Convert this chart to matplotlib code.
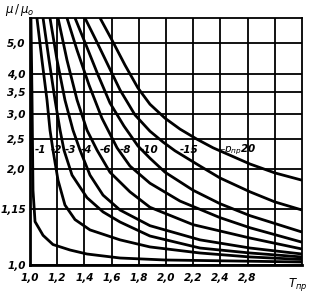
import numpy as np
import matplotlib
matplotlib.use("Agg")
import matplotlib.pyplot as plt

# reduced pressure of each curve
p_values = [1, 2, 3, 4, 6, 8, 10, 15, 20]

# points: T_pr and mu/mu0 for each curve
t_pts = {
    1: [1.007, 1.015, 1.022, 1.037, 1.096, 1.169, 1.294, 1.419, 1.662, 1.993, 2.47, 3.0],
    2: [1.051, 1.088, 1.125, 1.147, 1.169, 1.206, 1.257, 1.331, 1.441, 1.662, 1.882, 2.250, 2.618, 3.0],
    3: [1.096, 1.140, 1.184, 1.221, 1.250, 1.309, 1.419, 1.537, 1.662, 1.882, 2.250, 2.618, 3.0],
    4: [1.147, 1.199, 1.257, 1.316, 1.368, 1.441, 1.537, 1.662, 1.882, 2.250, 2.618, 3.0],
    6: [1.206, 1.272, 1.346, 1.419, 1.493, 1.588, 1.735, 1.882, 2.199, 2.618, 3.0],
    8: [1.272, 1.346, 1.434, 1.529, 1.640, 1.735, 1.882, 2.103, 2.397, 2.618, 3.0],
    10: [1.331, 1.412, 1.500, 1.588, 1.691, 1.794, 1.882, 1.993, 2.199, 2.397, 2.618, 3.0],
    15: [1.404, 1.485, 1.574, 1.662, 1.772, 1.882, 1.978, 2.066, 2.250, 2.397, 2.618, 2.801, 3.0],
    20: [1.515, 1.603, 1.699, 1.794, 1.882, 1.993, 2.103, 2.228, 2.346, 2.618, 2.801, 3.0],
}
mu_pts = {
    1: [6.0, 3.31, 1.72, 1.37, 1.24, 1.16, 1.115, 1.083, 1.052, 1.037, 1.03, 1.022],
    2: [6.0, 4.42, 3.31, 2.66, 2.30, 1.85, 1.545, 1.39, 1.29, 1.20, 1.14, 1.091, 1.060, 1.041],
    3: [6.0, 4.42, 3.31, 2.66, 2.30, 1.92, 1.63, 1.47, 1.366, 1.234, 1.131, 1.091, 1.060],
    4: [6.0, 4.42, 3.31, 2.66, 2.30, 1.92, 1.66, 1.49, 1.33, 1.20, 1.131, 1.083],
    6: [6.0, 4.42, 3.31, 2.66, 2.30, 1.96, 1.70, 1.52, 1.34, 1.216, 1.123],
    8: [6.0, 4.75, 3.69, 2.90, 2.34, 2.05, 1.81, 1.59, 1.41, 1.31, 1.18],
    10: [6.0, 4.93, 3.97, 3.24, 2.74, 2.37, 2.17, 1.96, 1.72, 1.56, 1.43, 1.27],
    15: [6.0, 5.11, 4.26, 3.56, 2.97, 2.64, 2.44, 2.29, 2.05, 1.88, 1.70, 1.58, 1.49],
    20: [6.0, 5.11, 4.26, 3.61, 3.21, 2.90, 2.68, 2.49, 2.34, 2.08, 1.95, 1.85],
}

# curve labels (text, T position of label)
curve_labels = ["-1", "-2", "-3", "-4", "-6", "-8", "-10", "-15"]
label_t = [1.037, 1.154, 1.257, 1.375, 1.515, 1.662, 1.81, 2.10]
label_mu = 2.30

x_ticks = [1.0, 1.2, 1.4, 1.6, 1.8, 2.0, 2.2, 2.4, 2.6, 2.8]
x_ticklabels = ["1,0", "1,2", "1,4", "1,6", "1,8", "2,0", "2,2", "2,4", "2,8", ""]
y_ticks = [1.0, 1.5, 2.0, 2.5, 3.0, 3.5, 4.0, 5.0]
y_ticklabels = ["1,0", "1,15", "2,0", "2,5", "3,0", "3,5", "4,0", "5,0"]

fnt = dict(family="DejaVu Sans", style="italic", weight="bold", size=7.5)

fig = plt.figure(figsize=(3.1, 2.95), dpi=100)
ax = fig.add_axes([30 / 310, 30 / 295, 272 / 310, 247 / 295])

for p in p_values:
    ax.plot(t_pts[p], mu_pts[p], color="black", lw=2.0, solid_capstyle="butt")

ax.set_yscale("log")
ax.set_xlim(1.0, 3.0)
ax.set_ylim(1.0, 6.0)
ax.minorticks_off()
ax.set_xticks(x_ticks)
ax.set_xticklabels(x_ticklabels, fontdict=fnt)
ax.set_yticks(y_ticks)
ax.set_yticklabels(y_ticklabels, fontdict=fnt)
ax.tick_params(length=0, pad=3)
ax.tick_params(axis="x", pad=6)
ax.grid(True, color="black", lw=1.3)
ax.set_axisbelow(True)
for side in ["left", "bottom"]:
    ax.spines[side].set_linewidth(2.0)
for side in ["top", "right"]:
    ax.spines[side].set_linewidth(1.3)

for txt, t in zip(curve_labels, label_t):
    ax.text(t, label_mu, txt, ha="left", va="center", fontdict=fnt)
ax.text(2.35, label_mu, r"—$p_{пр}$20", ha="left", va="center", fontdict=fnt)

fig.text(5 / 310, 1 - 10 / 295, r"$\mu\,/\,\mu_o$", ha="left", va="center",
         fontsize=8.5, fontweight="bold")
fig.text(288 / 310, 1 - 284 / 295, r"$T_{пр}$", ha="left", va="center", fontsize=8.5)

fig.savefig("out.png", dpi=100)
